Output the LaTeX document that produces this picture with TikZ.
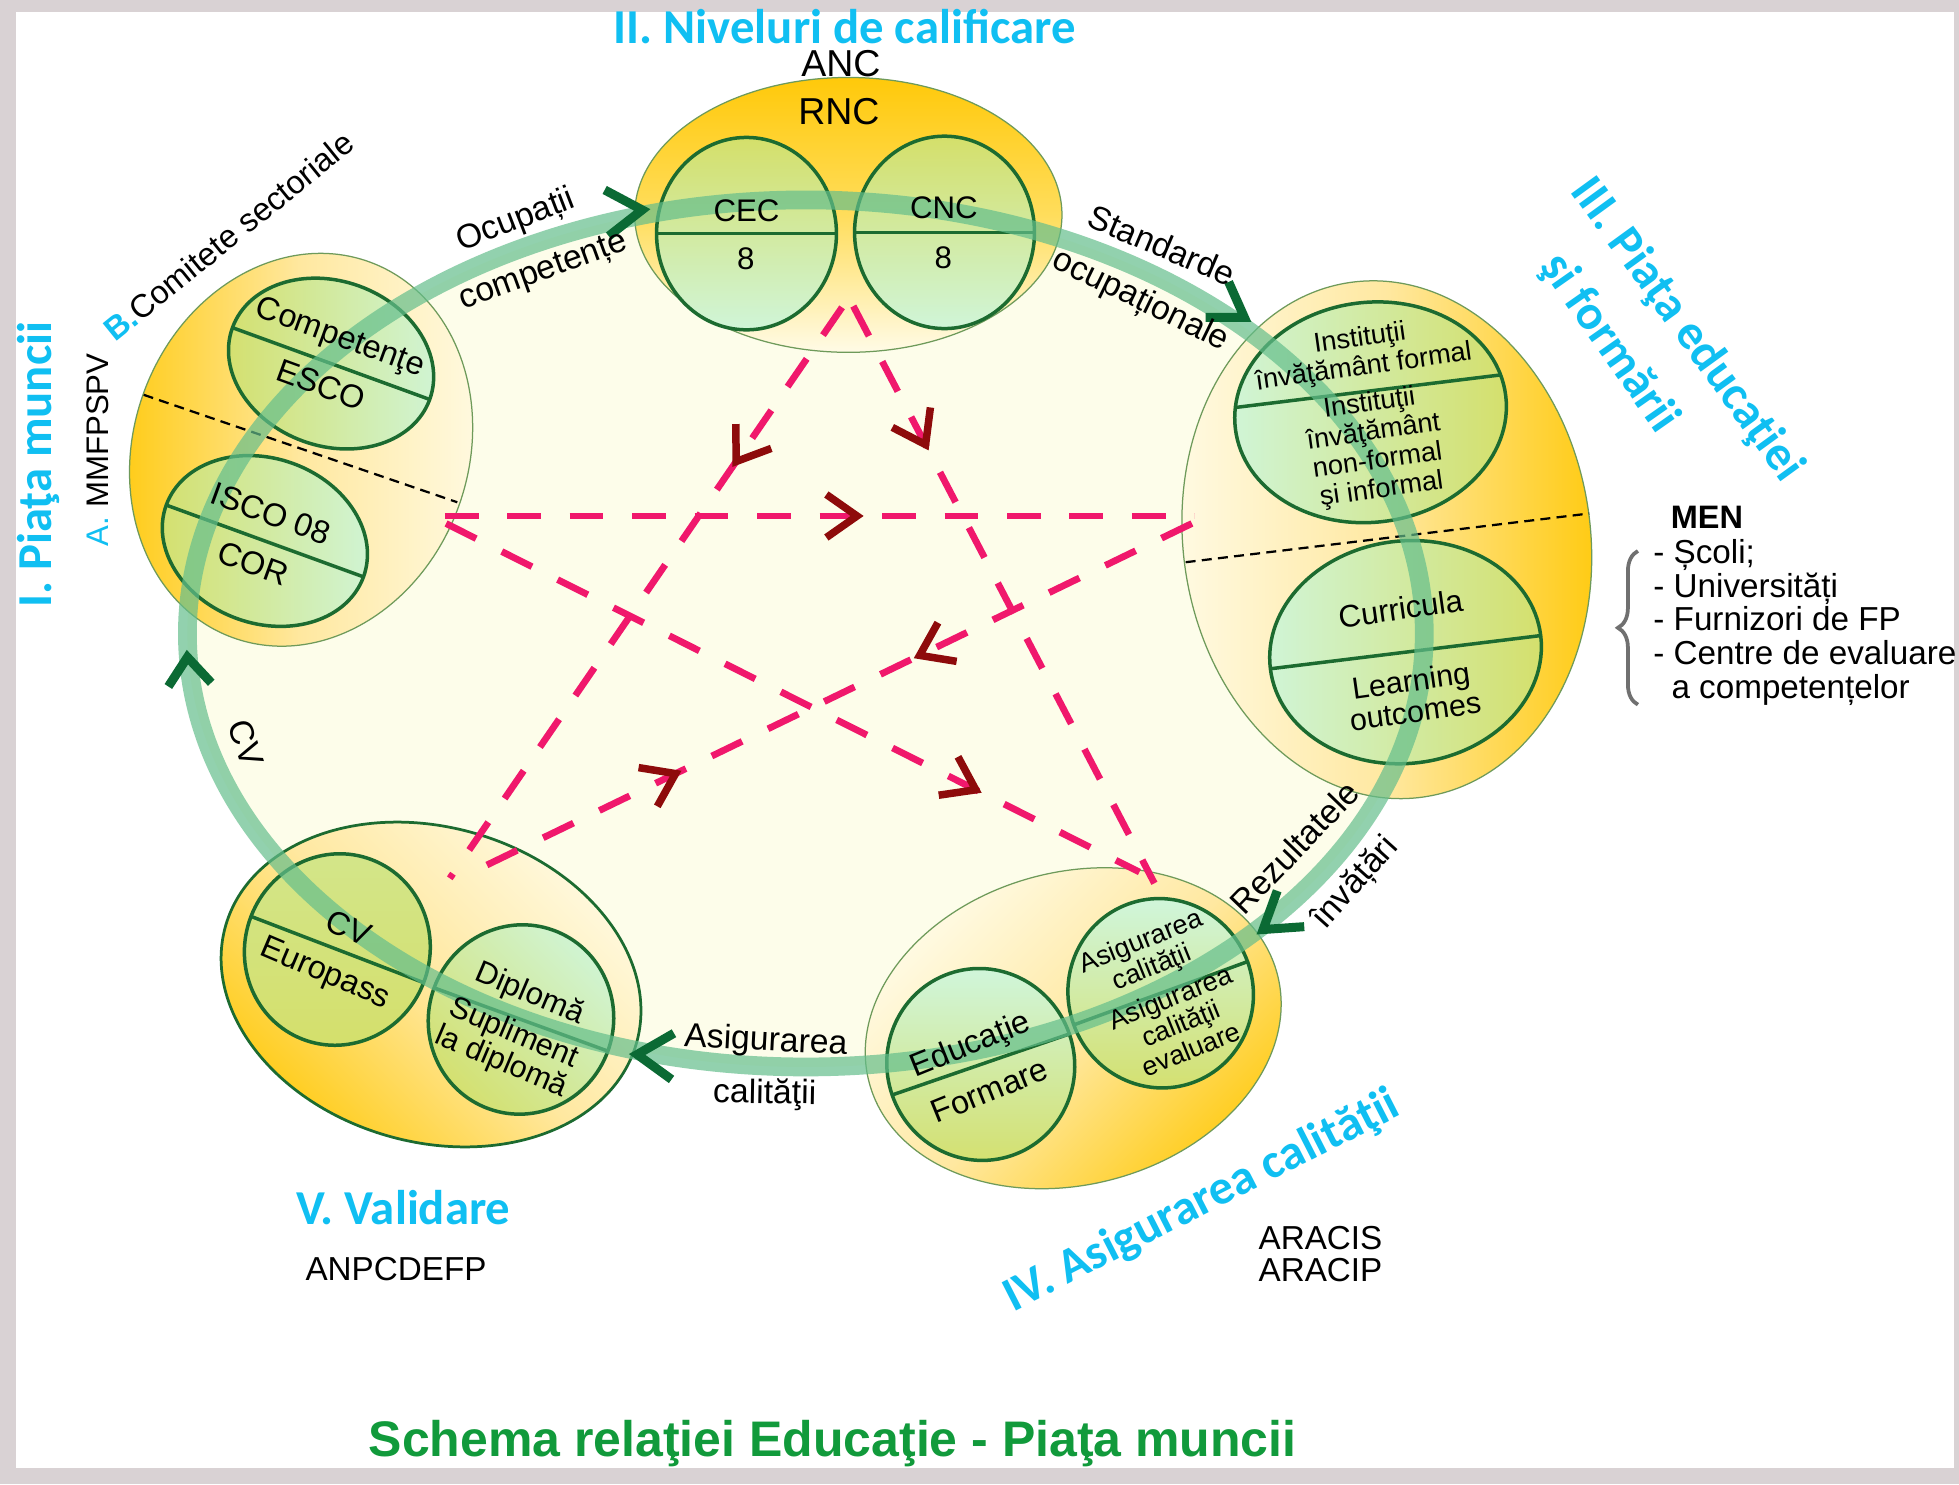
\documentclass[tikz,border=0pt]{standalone}
\usepackage{fontspec}
\setmainfont{Liberation Sans}
\newfontfamily\headfont{Carlito}
\usetikzlibrary{calc,decorations.pathreplacing}

\definecolor{bggrey}{HTML}{D9D2D4}
\definecolor{cream}{HTML}{FDFDEA}
\definecolor{orng}{HTML}{FFC90A}
\definecolor{midy}{HTML}{FFDD5C}
\definecolor{midy2}{HTML}{FFE8A0}
\definecolor{pale}{HTML}{FFFBE6}
\definecolor{mint}{HTML}{D0F5D8}
\definecolor{lime}{HTML}{D4DF6A}
\definecolor{cborder}{HTML}{1C6B30}
\definecolor{oborder}{HTML}{6E9A5A}
\definecolor{ringc}{RGB}{100,190,140}
\definecolor{dgreen}{HTML}{0B6A34}
\definecolor{starpink}{HTML}{F0186C}
\definecolor{dred}{HTML}{8E0B0B}
\definecolor{cyanh}{HTML}{10BFF2}
\definecolor{titlegreen}{HTML}{119A3B}
\definecolor{bracegrey}{HTML}{707070}

\tikzset{
  outerell/.style={draw=oborder, line width=0.5pt},
  incirc/.style={draw=cborder, line width=1.4pt},
  divline/.style={draw=cborder, line width=1.4pt},
  ringband/.style={draw=ringc, line width=7.5pt, opacity=0.7},
  gchev/.style={draw=dgreen, line width=3.6pt},
  rchev/.style={draw=dred, line width=3pt},
  starline/.style={draw=starpink, line width=2.7pt, dash pattern=on 13.5pt off 11.5pt},
  sepline/.style={draw=black, line width=0.9pt, dash pattern=on 4pt off 2.5pt},
  fs/.style={inner sep=0pt, align=center, font=\fontsize{#1}{#1}\selectfont},
  fsb/.style 2 args={inner sep=0pt, align=center, font=\fontsize{#1}{#2}\selectfont},
  head/.style={inner sep=0pt, text=cyanh, font=\headfont\bfseries\fontsize{19.5}{22}\selectfont},
}

\newcommand{\mychev}[5]{\draw[#1] (#2) ++({#3+180-#5}:#4) -- (#2) -- ++({#3+180+#5}:#4);}
\newcommand{\dcirc}[7]{%
  \begin{scope}[shift={(#1,#2)}, rotate=#3]
    \draw[incirc, #6] (0,0) ellipse [x radius=#4, y radius=#5];
    #7
  \end{scope}}

\begin{document}
\begin{tikzpicture}[x=0.5pt, y=-0.5pt]
% background
\fill[bggrey] (0,0) rectangle (1568,1188);
\fill[white] (13,10) rectangle (1564,1175);
\useasboundingbox (0,0) rectangle (1568,1188);

% cream interior of the cycle
\fill[cream] (645,507) ellipse [x radius=495, y radius=347];

% ---------- group ellipses ----------
\draw[outerell, top color=orng, bottom color=pale, middle color=midy] (679,172) ellipse [x radius=171, y radius=110];
\begin{scope}[shift={(241,360)}, rotate=-20]
  \draw[outerell, left color=orng, right color=pale, middle color=midy2] (0,0) ellipse [x radius=134, y radius=160];
\end{scope}
\begin{scope}[shift={(1110,432)}, rotate=8]
  \draw[outerell, left color=pale, right color=orng, middle color=midy2] (0,0) ellipse [x radius=163, y radius=208];
\end{scope}
\begin{scope}[shift={(859,823)}, rotate=15]
  \draw[outerell, top color=pale, bottom color=orng, middle color=midy2, shading angle=45] (0,0) ellipse [x radius=169, y radius=125];
\end{scope}
\begin{scope}[shift={(345,788)}, rotate=-16]
  \draw[draw=cborder, line width=1.1pt, top color=pale, bottom color=orng, middle color=midy2, shading angle=-45] (0,0) ellipse [x radius=171, y radius=126];
\end{scope}

% dashed separators
\coordinate (sl1) at (115,316); \coordinate (sl2) at (366,402);
\coordinate (sr1) at (949,450); \coordinate (sr2) at (1272,411);
\draw[sepline] (sl1) -- (sl2);
\draw[sepline] (sr1) -- (sr2);

% ---------- inner divided circles ----------
\dcirc{597.5}{187}{0}{72}{77}{top color=lime, bottom color=mint}{\draw[divline] (-72,0) -- (72,0);}
\dcirc{756}{186}{0}{72}{77}{top color=lime, bottom color=mint}{\draw[divline] (-72,0) -- (72,0);}
\dcirc{265}{291}{-20}{84}{66}{left color=lime, right color=mint}{\draw[divline] (-84,0) -- (84,0);}
\dcirc{212}{433}{-20}{84}{66}{left color=lime, right color=mint}{\draw[divline] (-84,0) -- (84,0);}
\dcirc{1097}{330}{7}{109}{88}{left color=mint, right color=lime}{\draw[divline] (-107,-17) -- (107,-17);}
\dcirc{1125}{522}{7}{109}{89}{left color=mint, right color=lime}{\draw[divline] (-109,0) -- (109,0);}
\dcirc{785}{852}{19}{75}{77}{top color=mint, bottom color=lime}{\draw[divline] (-75,0) -- (75,0);}
\dcirc{929}{795}{20}{74}{76}{top color=mint, bottom color=lime}{\draw[divline] (-74,0) -- (74,0);}
\dcirc{270}{760}{-21}{74}{77}{top color=lime!70!mint, bottom color=lime}{\draw[divline] (-74,0) -- (74,0);}
\dcirc{417}{816}{-20}{74}{76}{top color=mint, bottom color=lime, shading angle=-45}{\draw[divline] (-74,0) -- (74,0);}

% ---------- cycle band ----------
\draw[ringband] (645,507) ellipse [x radius=495, y radius=347];
\coordinate (g1) at (514,168);
\coordinate (g2) at (996,254);
\coordinate (g3) at (1011,744);
\coordinate (g4) at (510,844);
\coordinate (g5) at (150,526);
\mychev{gchev}{g1}{-5}{34}{33}
\mychev{gchev}{g2}{33}{31}{33}
\mychev{gchev}{g3}{143}{33}{33}
\mychev{gchev}{g4}{183}{34}{33}
\mychev{gchev}{g5}{-95}{28}{38}

% ---------- star ----------
\coordinate (A1) at (674,246); \coordinate (A2) at (683,245);
\coordinate (B1) at (356,413); \coordinate (B2) at (357,419);
\coordinate (C1) at (956,413); \coordinate (C2) at (954,419);
\coordinate (D1) at (360,703); \coordinate (D2) at (376,699);
\coordinate (E1) at (912,698); \coordinate (E2) at (924,707);
\draw[starline] (A1) -- (D1);
\draw[starline] (A2) -- (E2);
\draw[starline] (B1) -- (C1);
\draw[starline] (B2) -- (E1);
\draw[starline] (C2) -- (D2);
\coordinate (r1) at ($(A1)!0.27!(D1)$);
\coordinate (r2) at ($(A2)!0.24!(E2)$);
\coordinate (r3) at ($(B1)!0.55!(C1)$);
\coordinate (r4) at ($(C2)!0.377!(D2)$);
\coordinate (r5) at ($(C2)!0.715!(D2)$);
\coordinate (r6) at ($(B2)!0.764!(E1)$);
\mychev{rchev}{r1}{124.5}{30}{35}
\mychev{rchev}{r2}{62.4}{30}{35}
\mychev{rchev}{r3}{0}{30}{35}
\mychev{rchev}{r4}{154.2}{30}{35}
\mychev{rchev}{r5}{-25.8}{30}{35}
\mychev{rchev}{r6}{26.7}{30}{35}

% ---------- headings ----------
\node[head, anchor=base] (h2) at (676,35) {II. Niveluri de calificare};
\node[head, anchor=base, rotate=90] (h1) at (41,372) {I. Piaţa muncii};
\node[head, rotate=-54] (h3a) at (1350,264) {III. Piaţa educaţiei};
\node[head, rotate=-55] (h3b) at (1288,275) {şi formării};
\node[head, rotate=27] (h4) at (962,962) {IV. Asigurarea calităţii};
\node[head, anchor=base] (h5) at (323,980) {V. Validare};

% ---------- group I texts ----------
\node[fs=12.5, anchor=base, rotate=90] (la) at (87,360) {\textcolor{cyanh}{A.} MMFPSPV};
\node[fs=13, rotate=39] (lb) at (183,189) {\textcolor{cyanh}{\bfseries B.}Comitete sectoriale};
\node[fs=13, rotate=-20] (comp) at (272,271) {Competenţe};
\node[fs=13, rotate=-20] (esco) at (257,308) {ESCO};
\node[fs=13, rotate=-20] (isco) at (217,411) {ISCO 08};
\node[fs=13, rotate=-20] (cor) at (203,451) {COR};

% ---------- group II texts ----------
\node[fs=15, anchor=base] (anc) at (673,61) {ANC};
\node[fs=15, anchor=base] (rnc) at (671.5,100) {RNC};
\node[fs=12.5, anchor=base] (cec) at (597.5,177.5) {CEC};
\node[fs=12.5, anchor=base] (cec8) at (597,216) {8};
\node[fs=12.5, anchor=base] (cnc) at (755.5,175) {CNC};
\node[fs=12.5, anchor=base] (cnc8) at (755,215) {8};

% ---------- group III texts ----------
\node[fsb={10.9}{11.6}, rotate=8] (inst1) at (1090,283) {Instituţii\\învăţământ formal};
\node[fsb={10.9}{11.6}, rotate=8] (inst2) at (1101,358) {Instituţii\\învăţământ\\non-formal\\şi informal};
\node[fs=12.5, rotate=8] (curr) at (1121,487) {Curricula};
\node[fsb={12.2}{12.4}, rotate=8] (lout) at (1131,557) {Learning\\outcomes};
\node[anchor=base west, inner sep=0pt, font=\bfseries\fontsize{13}{13}\selectfont] (men) at (1337,423) {MEN};
\node[fs=13.3, anchor=base west] (men1) at (1323,451) {- Școli;};
\node[fs=13.3, anchor=base west] (men2) at (1323,478) {- Universități};
\node[fs=13.3, anchor=base west] (men3) at (1323,505) {- Furnizori de FP};
\node[fs=13.3, anchor=base west] (men4) at (1323,532) {- Centre de evaluare};
\node[fs=13.3, anchor=base west] (men5) at (1337.5,559) {a competențelor};
\coordinate (brb) at (1311,564); \coordinate (brt) at (1311,441);
\draw[bracegrey, line width=1.5pt, decorate, decoration={brace, amplitude=8pt}] (brb) -- (brt);

% ---------- group IV texts ----------
\node[fs=13, rotate=22] (educ) at (777,837) {Educaţie};
\node[fs=13, rotate=22] (form) at (792,873) {Formare};
\node[fsb={10.8}{11.2}, rotate=22] (asig1) at (918,765) {Asigurarea\\calităţii};
\node[fsb={10.8}{11.2}, rotate=22] (asig2) at (945,819) {Asigurarea\\calităţii\\evaluare};
\node[fs=13.3, anchor=base west] (aracis) at (1007,1000) {ARACIS};
\node[fs=13.3, anchor=base west] (aracip) at (1007,1026) {ARACIP};

% ---------- group V texts ----------
\node[fs=13, rotate=-23] (cv) at (279,743) {CV};
\node[fs=13, rotate=-23] (europ) at (260,780) {Europass};
\node[fs=12.5, rotate=-23] (dipl) at (424,796) {Diplomă};
\node[fsb={12.3}{12.4}, rotate=-23] (supl) at (406,839) {Supliment\\la diplomă};
\node[fs=13.3, anchor=base] (anp) at (317,1025) {ANPCDEFP};

% ---------- flow labels ----------
\node[fs=13.5, rotate=21] (f1a) at (413,177) {Ocupații};
\node[fs=13.5, rotate=20] (f1b) at (435,218) {competențe};
\node[fs=13.5, rotate=-23] (f2a) at (930,196) {Standarde};
\node[fs=13.5, rotate=-26] (f2b) at (913,241) {ocupaționale};
\node[fs=13.5, rotate=46] (f3a) at (1036,678) {Rezultatele};
\node[fs=13.5, rotate=48] (f3b) at (1085,707) {învățări};
\node[fs=13.5, rotate=-3] (f4a) at (613,834) {Asigurarea};
\node[fs=13.5, rotate=-1] (f4b) at (612,876) {calităţii};
\node[fs=13.5, rotate=-72] (f5) at (197,595) {CV};

% ---------- title ----------
\node[inner sep=0pt, anchor=base, text=titlegreen, font=\bfseries\fontsize{20}{20}\selectfont] (title) at (666.5,1166) {Schema relaţiei Educaţie - Piaţa muncii};
\end{tikzpicture}
\end{document}
